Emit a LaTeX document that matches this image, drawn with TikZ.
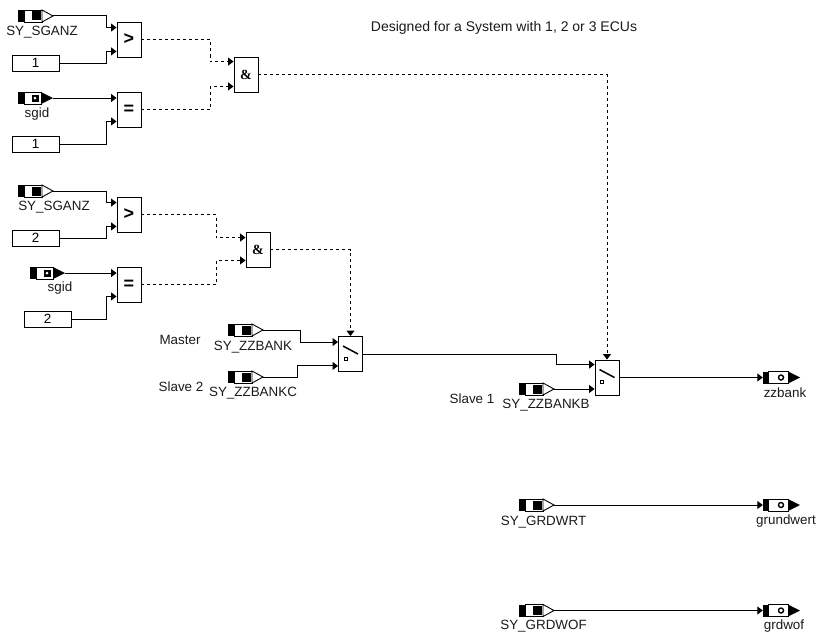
\documentclass[tikz,border=0pt]{standalone}
\usepackage{fontspec}
\usepackage{xcolor}
\setmainfont{Liberation Sans}
\newfontfamily\blockfont{Liberation Serif}
\usetikzlibrary{arrows.meta,positioning}
\definecolor{DiagInk}{HTML}{1A1A1A}
\tikzset{
  wire/.style={draw=black,line width=1pt,-{Triangle[length=5.5pt,width=8pt]}},
  ctrl/.style={wire,dash pattern=on 3pt off 3pt},
  blockbox/.style={draw=black,fill=white,line width=0.9pt,minimum width=24pt,minimum height=35pt,inner sep=0pt,font=\fontsize{18}{18}\selectfont\bfseries},
  andbox/.style={blockbox,font=\fontsize{14}{14}\blockfont\bfseries},
  constbox/.style={draw=black,fill=white,line width=0.9pt,minimum width=47pt,minimum height=16pt,inner sep=0pt},
  portbox/.style={minimum width=35pt,minimum height=12pt,inner sep=0pt},
  outbox/.style={minimum width=37pt,minimum height=12pt,inner sep=0pt},
  lbl/.style={text=DiagInk,inner sep=0pt,text height=11pt,text depth=2pt}
}
\newcommand{\SysIn}[2]{\begin{scope}[shift={(#2)}]
\node[portbox] (#1) at (17.5,0) {};
\fill (0,-6) rectangle (6,6);
\draw[line width=0.9pt] (6,-6) rectangle (24,6);
\fill (14,-4.5) rectangle (23,4.5);
\draw[fill=white,line width=0.9pt] (24,-6) -- (35,0) -- (24,6) -- cycle;
\end{scope}}
\newcommand{\MsgIn}[2]{\begin{scope}[shift={(#2)}]
\node[portbox] (#1) at (17.5,0) {};
\fill (0,-6) rectangle (6,6);
\draw[line width=0.9pt] (6,-6) rectangle (23,6);
\fill (14,-3.5) rectangle (21,3.5);
\fill[white] (17,0) circle (1.5);
\fill (23,-6) -- (35,0) -- (23,6) -- cycle;
\end{scope}}
\newcommand{\MsgOut}[2]{\begin{scope}[shift={(#2)}]
\node[outbox] (#1) at (18.5,0) {};
\fill (0,-6) rectangle (5,6);
\draw[line width=0.9pt] (5,-6) rectangle (25,6);
\draw[line width=1.4pt] (18,0) circle (2.5);
\fill (25,-6) -- (37,0) -- (25,6) -- cycle;
\end{scope}}
\newcommand{\SwitchMark}[1]{\draw[line width=1.5pt] ([shift={(5,10)}]#1.north west) -- ([shift={(20,18)}]#1.north west);
\draw[line width=0.9pt] ([shift={(6,21)}]#1.north west) rectangle ([shift={(9,24)}]#1.north west);}

\begin{document}
\begin{tikzpicture}[x=1pt,y=-1pt,font=\fontsize{13.4}{15}\selectfont]
\useasboundingbox (0,0) rectangle (818,634);
\node[lbl,font=\fontsize{14}{15}\selectfont] (title) at (504,27.5) {Designed for a System with 1, 2 or 3 ECUs};
% first pair
\SysIn{sganzA}{18,16}
\node[lbl] (sganzAlbl) at (42,31) {SY\_SGANZ};
\node[constbox] (constA) at (35.5,63) {1};
\MsgIn{sgidA}{18,98}
\node[lbl] (sgidAlbl) at (37,113) {sgid};
\node[constbox] (constB) at (35.5,144) {1};
\node[blockbox] (gtA) at (129,39.5) {>};
\node[blockbox] (eqA) at (129,109.5) {=};
\node[andbox] (andA) at (246,74.5) {\&};
\draw[wire] (sganzA.east) -- ++(53,0) |- ([yshift=-6pt]gtA.north west);
\draw[wire] (constA.east) -- ++(47,0) |- ([yshift=6pt]gtA.south west);
\draw[wire] (sgidA.east) -- (sgidA.east -| eqA.west);
\draw[wire] (constB.east) -- ++(47,0) |- ([yshift=6pt]eqA.south west);
\draw[ctrl] (gtA.east) -- ++(69,0) |- ([yshift=-5pt]andA.north west);
\draw[ctrl] (eqA.east) -- ++(69,0) |- ([yshift=6pt]andA.south west);
% second pair
\SysIn{sganzB}{18,191}
\node[lbl] (sganzBlbl) at (54,206) {SY\_SGANZ};
\node[constbox] (constC) at (35.5,238) {2};
\MsgIn{sgidB}{30,273}
\node[lbl] (sgidBlbl) at (60,287) {sgid};
\node[constbox] (constD) at (47.5,319) {2};
\node[blockbox] (gtB) at (129,214.5) {>};
\node[blockbox] (eqB) at (129,284.5) {=};
\node[andbox] (andB) at (258,249.5) {\&};
\draw[wire] (sganzB.east) -- ++(53,0) |- ([yshift=-6pt]gtB.north west);
\draw[wire] (constC.east) -- ++(47,0) |- ([yshift=6pt]gtB.south west);
\draw[wire] (sgidB.east) -- (sgidB.east -| eqB.west);
\draw[wire] (constD.east) -- ++(35,0) |- ([yshift=6pt]eqB.south west);
\draw[ctrl] (gtB.east) -- ++(75,0) |- ([yshift=-6pt]andB.north west);
\draw[ctrl] (eqB.east) -- ++(75,0) |- ([yshift=7pt]andB.south west);
% switches
\node[lbl] (master) at (180,340) {Master};
\node[lbl] (slaveB) at (181,387) {Slave 2};
\SysIn{zzbank}{228,330}
\node[lbl] (zzbanklbl) at (253,346) {SY\_ZZBANK};
\SysIn{zzbankc}{228,377}
\node[lbl] (zzbankclbl) at (253,392) {SY\_ZZBANKC};
\node[blockbox] (swA) at (350.5,354) {};
\SwitchMark{swA}
\draw[wire] (zzbank.east) -- ++(37,0) |- ([yshift=-6pt]swA.north west);
\draw[wire] (zzbankc.east) -- ++(34,0) |- ([yshift=6pt]swA.south west);
\draw[ctrl] (andB.east) -| (swA.north);
\node[lbl] (slaveA) at (472,399) {Slave 1};
\SysIn{zzbankb}{519,389}
\node[lbl] (zzbankblbl) at (546,404) {SY\_ZZBANKB};
\node[blockbox] (swB) at (607,377.5) {};
\SwitchMark{swB}
\draw[wire] (swA.east) -- ++(194,0) |- ([yshift=-5pt]swB.north west);
\draw[wire] (zzbankb.east) -- (zzbankb.east -| swB.west);
\draw[ctrl] (andA.east) -| (swB.north);
\MsgOut{zzout}{763,377.5}
\node[lbl] (zzoutlbl) at (785,392.5) {zzbank};
\draw[wire] (swB.east) -- (zzout.west);
% pass through
\SysIn{grdwrt}{519,505}
\node[lbl] (grdwrtlbl) at (543.5,520.5) {SY\_GRDWRT};
\MsgOut{grundout}{763,505}
\node[lbl] (grundoutlbl) at (786,520) {grundwert};
\draw[wire] (grdwrt.east) -- (grundout.west);
\SysIn{grdwof}{519,610.5}
\node[lbl] (grdwoflbl) at (543.5,625) {SY\_GRDWOF};
\MsgOut{wofout}{763,610.5}
\node[lbl] (wofoutlbl) at (784,625) {grdwof};
\draw[wire] (grdwof.east) -- (wofout.west);
\end{tikzpicture}
\end{document}
